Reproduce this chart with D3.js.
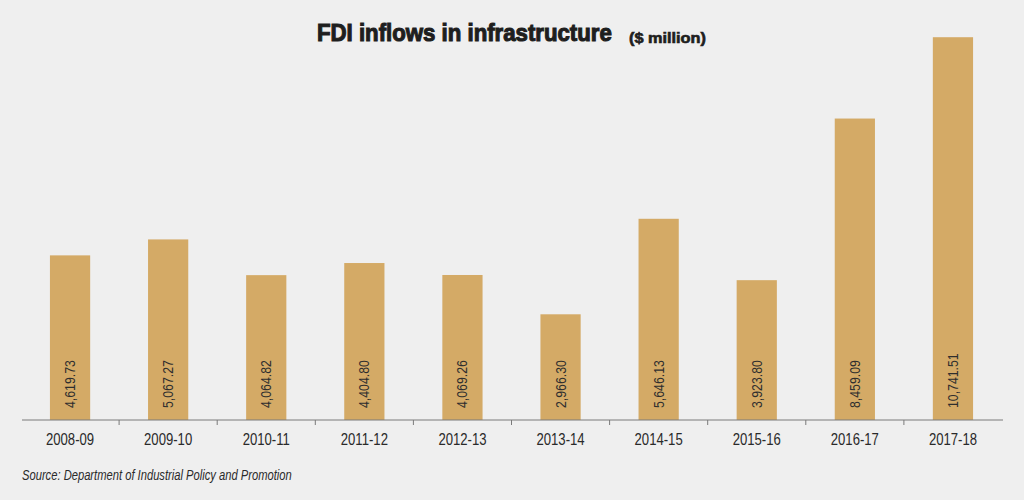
<!DOCTYPE html>
<html>
<head>
<meta charset="utf-8">
<script src="https://cdn.jsdelivr.net/npm/d3@7"></script>
<style>
  html, body { margin: 0; padding: 0; background: #efefef; }
  svg { display: block; }
</style>
</head>
<body>
<svg width="1024" height="500"></svg>
<script>
// chart data
const years = ["2008-09", "2009-10", "2010-11", "2011-12", "2012-13",
               "2013-14", "2014-15", "2015-16", "2016-17", "2017-18"];
const inflows = [4619.73, 5067.27, 4064.82, 4404.80, 4069.26,
                 2966.30, 5646.13, 3923.80, 8459.09, 10741.51];
const yDomain = [0, 11000];

let svg = d3.select("svg"),
    width = 1024,
    height = 500;

const fmt = d3.format(",.2f");
// Arial Narrow is just Arial squeezed horizontally, so squeeze Liberation Sans
const sans = "'Liberation Sans', Arial, sans-serif";
const squeeze = "scale(0.82,1)";

let x = d3.scaleBand()
    .domain(years)
    .range([21, 1002])
    .paddingInner(0.59)
    .paddingOuter(0.295);

let y = d3.scaleLinear()
    .domain(yDomain)
    .range([420, 28]);

// background
svg.append("rect")
    .attr("width", width)
    .attr("height", height)
    .attr("fill", "#efefef");

// title pieces, each squeezed to the width it has in the reference
function fitText(str, left, base, size, wanted, stroke) {
    let t = svg.append("text")
        .attr("font-family", sans)
        .attr("font-weight", "bold")
        .attr("font-size", size)
        .attr("fill", "#1e1e1e")
        .attr("stroke", "#1e1e1e")
        .attr("stroke-width", stroke)
        .text(str);
    let k = wanted / t.node().getComputedTextLength();
    t.attr("transform", `translate(${left},${base}) scale(${k},1)`);
}
fitText("FDI inflows in infrastructure", 317, 40.5, 24, 295, 1.1);
fitText("($ million)", 629, 42.5, 14, 77, 0.6);

// bars
svg.append("g")
    .selectAll("rect")
    .data(inflows)
    .join("rect")
    .attr("x", (d, i) => x(years[i]))
    .attr("y", d => y(d))
    .attr("width", x.bandwidth())
    .attr("height", d => y(0) - y(d))
    .attr("fill", "#d4aa66");

// value labels, rotated inside the bars
svg.append("g")
    .selectAll("text")
    .data(inflows)
    .join("text")
    .attr("transform", (d, i) => `translate(${x(years[i]) + x.bandwidth() / 2 + 5},${y(0) - 12}) rotate(-90) ${squeeze}`)
    .attr("font-family", sans)
    .attr("font-size", 15)
    .attr("fill", "#2e2e2e")
    .text(d => fmt(d));

// x axis
let axis = svg.append("g").attr("transform", `translate(0,${y(0)})`);
axis.append("line")
    .attr("x1", 22)
    .attr("x2", 1003)
    .attr("stroke", "#7a7a7a")
    .attr("stroke-width", 1);
axis.selectAll(".tick")
    .data(years.slice(1))
    .join("line")
    .attr("class", "tick")
    .attr("x1", d => x(d) - x.step() * x.paddingInner() / 2)
    .attr("x2", d => x(d) - x.step() * x.paddingInner() / 2)
    .attr("y1", 0)
    .attr("y2", 5)
    .attr("stroke", "#7a7a7a");
axis.selectAll(".label")
    .data(years)
    .join("text")
    .attr("class", "label")
    .attr("transform", d => `translate(${x(d) + x.bandwidth() / 2},25) ${squeeze}`)
    .attr("text-anchor", "middle")
    .attr("font-family", sans)
    .attr("font-size", 16)
    .attr("fill", "#2a2a2a")
    .text(d => d);

// source note
svg.append("text")
    .attr("transform", `translate(22,480) scale(0.8,1)`)
    .attr("font-family", sans)
    .attr("font-style", "italic")
    .attr("font-size", 14)
    .attr("fill", "#2a2a2a")
    .text("Source: Department of Industrial Policy and Promotion");
</script>
</body>
</html>
